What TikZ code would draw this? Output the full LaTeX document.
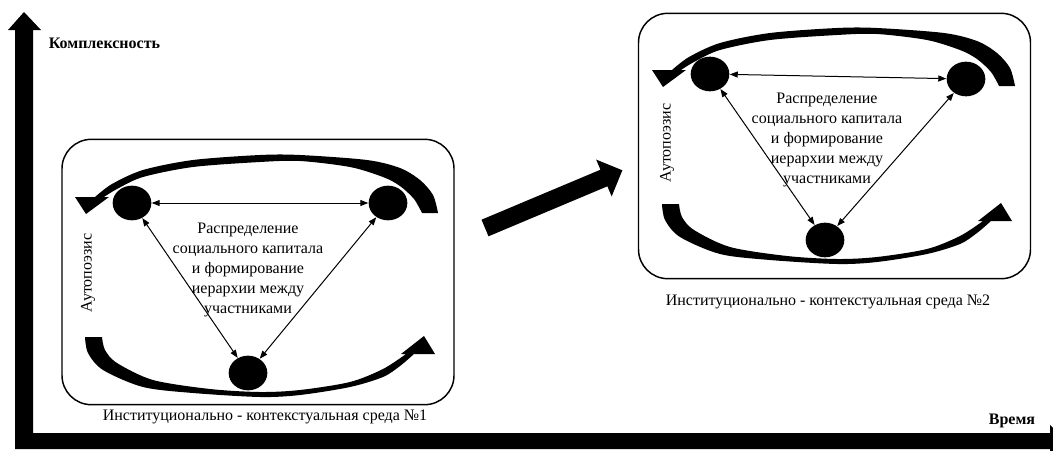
\documentclass[tikz,border=0pt]{standalone}
\usepackage{fontspec}
\setmainfont{Liberation Serif}
\usetikzlibrary{positioning}
\usetikzlibrary{arrows.meta}
\usetikzlibrary{shapes.geometric}

\begin{document}
\begin{tikzpicture}[
            x = 0.75pt, y = -0.75pt, % pixel grid, y pointing down
            > = {Triangle[length=6pt, width=4.5pt]}, % arrow head style
            semithick, % line style
            font = \fontsize{12}{15}\selectfont
        ]

        \tikzstyle{agent}=[
            ellipse,
            fill = black,
            minimum width = 29pt,
            minimum height = 26pt,
            inner sep = 0pt
        ]
        \tikzstyle{env}=[draw, line width = 1.1pt, rounded corners = 22pt,
            minimum width = 294pt, minimum height = 199pt]
        \tikzstyle{flow}=[<->, line width = 0.75pt]
        \tikzstyle{axislabel}=[font = \fontsize{12}{15}\selectfont\bfseries]

        \useasboundingbox (0,0) rectangle (1053,450);
        \clip (0,0) rectangle (1053,450);

        % axes
        \fill (15,449) -- (15,30) -- (8,30) -- (24,12) -- (41,30) -- (33,30)
            -- (33,433) -- (1050,433) -- (1050,425) -- (1066,441) -- (1050,457)
            -- (1050,449) -- cycle;
        \node[axislabel, anchor=west] (K) at (44,43) {Комплексность};
        \node[axislabel] (V) at (1012,421) {Время};

        % autopoiesis arcs of both environments
        \foreach \sx/\sy/\ty in {0/0/0, 577/-127/-133} {
            \begin{scope}[shift={(\sx,\sy)}]
            \fill plot[smooth] coordinates {(438,213) (433,195) (420,180) (400,168)
                    (367,160) (300,155) (260,155) (193,160) (143,170) (112,184) (95,197)}
                -- (75,197) -- (86,214) -- (109,197)
                -- plot[smooth] coordinates {(104,197) (117,189) (143,177) (193,167)
                    (260,162) (300,161) (350,167) (383,177) (400,186) (414,199) (422,213)}
                -- cycle;
            \end{scope}
            \begin{scope}[shift={(\sx,\ty)}]
            \fill plot[smooth] coordinates {(85,337) (88,353) (103,370) (143,387)
                    (193,393) (260,397) (300,395) (350,387) (383,377) (400,366) (414,354)}
                -- (435,354) -- (424,336) -- (401,354)
                -- plot[smooth] coordinates {(406,354) (383,369) (350,382) (300,390)
                    (260,392) (210,389) (153,380) (117,363) (105,350) (102,337)}
                -- cycle;
            \end{scope}
        }

        % environment 1
        \node[env] (E1) at (258,272) {};
        \node[agent] (A1) at (132,203) {};
        \node[agent] (B1) at (388,203) {};
        \node[agent] (C1) at (248,373) {};

        \path[flow] (A1) edge (B1);
        \path[flow] (A1) edge (C1);
        \path[flow] (B1) edge (C1);

        \node[align=center] (T1) at (248,270) {Распределение\\социального капитала\\и формирование\\иерархии между\\участниками};
        \node[rotate=90] (S1) at (88,273) {Аутопоэзис};
        \node (L1) at (265,417) {Институционально - контекстуальная среда №1};

        % transition
        \begin{scope}[shift={(485,228)}, rotate=22.8]
        \fill (0,-9) -- (129,-9) -- (129,-20) -- (149,0) -- (129,20) -- (129,9) -- (0,9) -- cycle;
        \end{scope}

        % environment 2
        \node[env] (E2) at (834.5,146) {};
        \node[agent] (A2) at (710,74) {};
        \node[agent] (B2) at (966,79) {};
        \node[agent] (C2) at (825,240) {};

        \path[flow] (A2) edge (B2);
        \path[flow] (A2) edge (C2);
        \path[flow] (B2) edge (C2);

        \node[align=center] (T2) at (827,140) {Распределение\\социального капитала\\и формирование\\иерархии между\\участниками};
        \node[rotate=90] (S2) at (667,143) {Аутопоэзис};
        \node (L2) at (828,302) {Институционально - контекстуальная среда №2};

  \end{tikzpicture}
\end{document}
